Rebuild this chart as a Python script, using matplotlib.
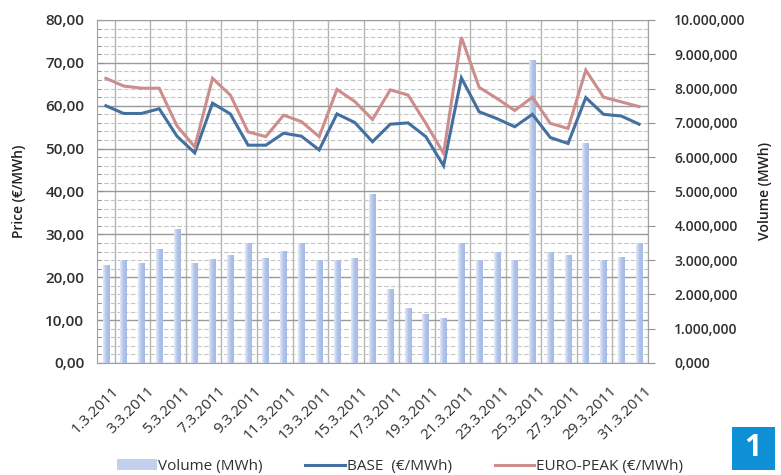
import matplotlib
matplotlib.use("Agg")
import matplotlib.pyplot as plt
import numpy as np
from matplotlib.colors import LinearSegmentedColormap
from matplotlib.patches import Patch, Rectangle
from matplotlib.lines import Line2D
from matplotlib.ticker import MultipleLocator, FixedLocator, FuncFormatter
from matplotlib.transforms import ScaledTranslation

plt.rcParams['font.family'] = ['Open Sans', 'DejaVu Sans']

# daily data, March 2011
days = ["%d.3.2011" % d for d in range(1, 32)]
base = [60.0, 58.2, 58.2, 59.3, 52.9, 49.0, 60.6, 58.1, 50.8, 50.8, 53.6,
        52.9, 49.7, 58.1, 56.1, 51.6, 55.7, 56.0, 52.8, 46.0, 66.5, 58.6,
        57.0, 55.1, 58.0, 52.6, 51.2, 61.9, 58.0, 57.6, 55.7]
euro_peak = [66.4, 64.6, 64.1, 64.1, 55.3, 50.4, 66.4, 62.5, 53.9, 52.8, 57.8,
             56.3, 52.8, 63.8, 61.0, 56.8, 63.7, 62.5, 55.9, 48.9, 76.0, 64.3,
             61.7, 58.9, 62.0, 55.9, 54.7, 68.3, 62.0, 60.9, 59.8]
volume = [2860, 3000, 2910, 3310, 3900, 2910, 3020, 3150, 3510, 3070, 3270,
          3510, 3000, 3000, 3070, 4930, 2160, 1590, 1430, 1320, 3510, 3000,
          3250, 3000, 8830, 3250, 3150, 6410, 3000, 3100, 3510]
tick_days = days[::2]

x = np.arange(len(days))

fig = plt.figure(figsize=(7.81, 4.75), dpi=100)
ax = fig.add_axes([0.1242, 0.2358, 0.7055, 0.7221])
axv = ax.twinx()
axl = ax.twinx()

# price axis with grid
ax.set_xlim(-0.5, len(days) - 0.5)
ax.set_ylim(0, 80)
ax.yaxis.set_major_locator(MultipleLocator(10))
ax.yaxis.set_minor_locator(MultipleLocator(2))
ax.yaxis.set_major_formatter(FuncFormatter(lambda v, p: ("%.2f" % v).replace('.', ',')))
ax.xaxis.set_minor_locator(FixedLocator(np.arange(0.5, len(days), 2)))
ax.tick_params(axis='x', which='both', length=0, pad=15)
ax.tick_params(axis='y', which='major', direction='in', length=5, color='#909090',
               labelsize=11, labelcolor='#303030', pad=9)
ax.tick_params(axis='y', which='minor', direction='in', length=3, color='#909090')
ax.set_xticks(x[::2])
ax.set_xticklabels(tick_days, rotation=45, ha='right', va='top', rotation_mode='anchor',
                   fontsize=11, color='#303030')
shift = ScaledTranslation(4 / 72, 0, fig.dpi_scale_trans)
for lab in ax.get_xticklabels():
    lab.set_transform(lab.get_transform() + shift)
for lab in ax.get_yticklabels():
    lab.set_fontweight('semibold')
ax.yaxis.grid(True, which='major', color='#9a9a9a', lw=1.0)
ax.yaxis.grid(True, which='minor', color='#c4c4c4', lw=0.8, ls=(0, (4, 2)))
ax.xaxis.grid(True, which='minor', color='#b4b4b4', lw=1.0)
ax.set_axisbelow(True)
for s in ax.spines.values():
    s.set_color('#a0a0a0')
ax.set_ylabel("Price (€/MWh)", fontsize=10, fontweight='semibold', color='#202020', labelpad=14)

# volume bars
bars = axv.bar(x, volume, width=0.38, color='#c2d0ee', edgecolor='none', zorder=2)
cmap = LinearSegmentedColormap.from_list('vol', ['#e4eaf7', '#b0c3e8', '#a6bae5'])
grad = np.linspace(0, 1, 32).reshape(1, -1)
for b in bars:
    x0, y0 = b.get_xy()
    im = axv.imshow(grad, extent=[x0, x0 + b.get_width(), y0, y0 + b.get_height()],
                    aspect='auto', cmap=cmap, zorder=2, interpolation='bilinear')
    im.set_clip_path(b)
    b.set_facecolor('none')
axv.set_xlim(-0.5, len(days) - 0.5)
axv.set_ylim(0, 10000)
axv.yaxis.set_major_locator(MultipleLocator(1000))
axv.yaxis.set_major_formatter(FuncFormatter(
    lambda v, p: ("{:,.3f}".format(v)).replace(',', 'X').replace('.', ',').replace('X', '.')))
axv.tick_params(axis='y', direction='out', length=5, color='#909090', labelsize=10,
                labelcolor='#303030', pad=14)
for lab in axv.get_yticklabels():
    lab.set_fontweight('semibold')
for s in axv.spines.values():
    s.set_visible(False)
axv.set_ylabel("Volume (MWh)", fontsize=10, fontweight='semibold', color='#202020',
               rotation=90, labelpad=9)

# price lines
axl.plot(x, base, color='#44709f', lw=2.2, solid_joinstyle='miter')
axl.plot(x, euro_peak, color='#cc8d8c', lw=2.2, solid_joinstyle='miter')
axl.set_xlim(-0.5, len(days) - 0.5)
axl.set_ylim(0, 80)
axl.set_yticks([])
for s in axl.spines.values():
    s.set_visible(False)

handles = [Patch(facecolor='#c2d0ee', edgecolor='none'),
           Line2D([], [], color='#44709f', lw=2.2),
           Line2D([], [], color='#cc8d8c', lw=2.2)]
labels = ["Volume (MWh)", "BASE  (€/MWh)", "EURO-PEAK (€/MWh)"]
fig.legend(handles, labels, loc='center', bbox_to_anchor=(0.512, 0.018), ncol=3,
           frameon=False, fontsize=11, handlelength=2.6, columnspacing=2.8,
           handletextpad=0.1, labelcolor='#303030')

# badge
fig.patches.append(Rectangle((0.937, 0.0105), 0.055, 0.0905, transform=fig.transFigure,
                             facecolor='#0f8fd5', edgecolor='none'))
fig.text(0.9645, 0.056, "1", color='white', fontsize=22, fontweight='bold',
         ha='center', va='center')

fig.savefig("out.png", dpi=100)
